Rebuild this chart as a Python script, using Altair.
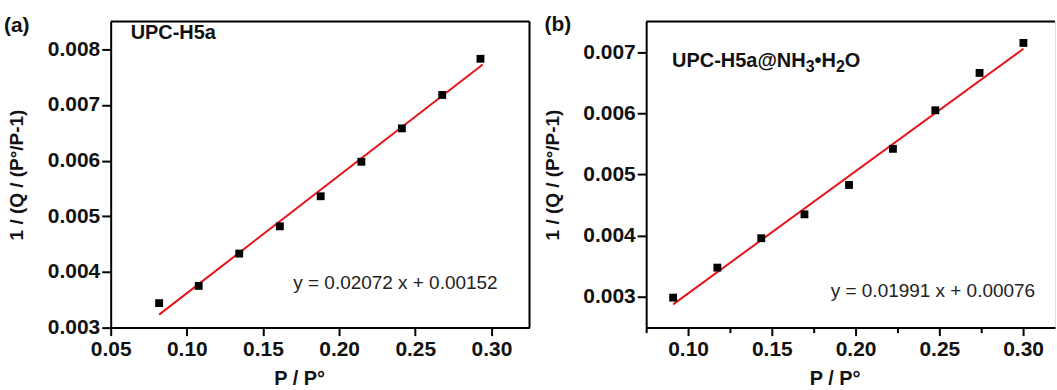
import altair as alt
import pandas as pd

# ---------------- data ----------------
a_x = [0.0818, 0.1078, 0.1344, 0.1611, 0.1879, 0.2146, 0.2412, 0.2677, 0.2928]
a_y = [0.00344, 0.00375, 0.00433, 0.00482, 0.00536, 0.00598, 0.00658, 0.00718, 0.00783]
a_fit_x = [0.0818, 0.2943]
a_fit_y = [0.003233, 0.007726]

b_x = [0.0911, 0.1175, 0.1437, 0.1695, 0.1961, 0.2223, 0.2476, 0.2740, 0.3002]
b_y = [0.00299, 0.00348, 0.00396, 0.00435, 0.00483, 0.00542, 0.00605, 0.00666, 0.00715]
b_fit_x = [0.0911, 0.3002]
b_fit_y = [0.00288, 0.007054]

a_xticks = [0.05, 0.075, 0.10, 0.125, 0.15, 0.175, 0.20, 0.225, 0.25, 0.275, 0.30, 0.325]
b_xticks = [0.075, 0.10, 0.125, 0.15, 0.175, 0.20, 0.225, 0.25, 0.275, 0.30]
a_yticks = [0.003, 0.0035, 0.004, 0.0045, 0.005, 0.0055, 0.006, 0.0065, 0.007, 0.0075, 0.008]
b_yticks = [0.003, 0.0035, 0.004, 0.0045, 0.005, 0.0055, 0.006, 0.0065, 0.007]

x_title = "P / P°"
y_title = "1 / (Q / (P°/P-1)"
label_a = "UPC-H5a"
# panel (b) label in pieces: (text, is_subscript)
label_b_parts = [("UPC-H5a@NH", False), ("3", True), ("•H", False), ("2", True), ("O", False)]
eq_a = "y = 0.02072 x + 0.00152"
eq_b = "y = 0.01991 x + 0.00076"

FONT = "Liberation Sans"
H = 307
WA = 420
WB = 410
LAB_FS = 20
SUB_FS = 16

# Liberation Sans Bold advance widths (em) for the label characters
ADV = {"U": .722, "P": .667, "C": .722, "-": .333, "H": .722, "5": .556, "a": .556,
       "@": .975, "N": .722, "3": .556, "•": .35, "2": .556, "O": .778}

x_major = "abs(datum.value*20 - round(datum.value*20)) < 0.001"
y_major = "abs(datum.value*1000 - round(datum.value*1000)) < 0.01"


def x_axis(vals):
    return alt.Axis(
        values=vals, title=x_title,
        labelExpr=f"{x_major} ? format(datum.value, '.2f') : ''",
        tickSize={"condition": {"test": x_major, "value": 8}, "value": 5},
        tickWidth=2, tickColor="black", domainColor="black", domainWidth=2,
        labelFont=FONT, labelFontSize=21, labelFontWeight="bold", labelColor="#111",
        labelPadding=3, labelOverlap=False, labelFlush=False,
        titleFont=FONT, titleFontSize=20, titleFontWeight="bold", titleColor="#111",
        titleX=189, titlePadding=9, grid=False,
    )


def y_axis(vals, tpad):
    return alt.Axis(
        values=vals, title=y_title,
        labelExpr=f"{y_major} ? format(datum.value, '.3f') : ''",
        tickSize={"condition": {"test": y_major, "value": 9}, "value": 5},
        tickWidth=2, tickColor="black", domainColor="black", domainWidth=2,
        labelFont=FONT, labelFontSize=21, labelFontWeight="bold", labelColor="#111",
        labelPadding=2, labelOverlap=False, labelFlush=False,
        titleFont=FONT, titleFontSize=19, titleFontWeight="bold", titleColor="#111",
        titlePadding=tpad, grid=False,
    )


def text_layer(txt, x, y, size, weight, align="left", color="#111"):
    one = pd.DataFrame({"a": [0]})
    return alt.Chart(one).mark_text(text=txt, font=FONT, fontSize=size, fontWeight=weight,
                                    align=align, baseline="alphabetic", color=color).encode(
        x=alt.value(x), y=alt.value(y))


def panel(px, py, fx, fy, xdom, ydom, xt, yt, w, tag, tagx, tagy, lab_parts, labx, laby,
          eq, eqx, eqy, right_border, tpad):
    pts = pd.DataFrame({"x": px, "y": py})
    fit = pd.DataFrame({"x": fx, "y": fy})
    xs = alt.Scale(domain=xdom, nice=False, zero=False)
    ys = alt.Scale(domain=ydom, nice=False, zero=False)

    line = alt.Chart(fit).mark_line(color="#e8141c", strokeWidth=2).encode(
        x=alt.X("x:Q", scale=xs, axis=x_axis(xt)),
        y=alt.Y("y:Q", scale=ys, axis=y_axis(yt, tpad)),
    )
    points = alt.Chart(pts).mark_square(color="black", size=62, opacity=1).encode(
        x=alt.X("x:Q", scale=xs), y=alt.Y("y:Q", scale=ys)
    )
    top = alt.Chart(pd.DataFrame({"a": [0]})).mark_rule(color="black", strokeWidth=2).encode(
        x=alt.value(0), x2=alt.value(w), y=alt.value(0)
    )
    layers = [line, points, top]
    if right_border:
        layers.append(
            alt.Chart(pd.DataFrame({"a": [0]})).mark_rule(color="black", strokeWidth=2).encode(
                x=alt.value(w), y=alt.value(0), y2=alt.value(H)
            )
        )
    layers.append(text_layer(tag, tagx, tagy, 21, "bold"))
    cx = labx
    for txt, sub in lab_parts:
        fs = SUB_FS if sub else LAB_FS
        layers.append(text_layer(txt, cx, laby + (5 if sub else 0), fs, "bold"))
        cx += sum(ADV.get(c, .6) for c in txt) * fs
    layers.append(text_layer(eq, eqx, eqy, 19, "normal", align="right", color="#222"))
    return alt.layer(*layers).properties(width=w, height=H)


pa = panel(a_x, a_y, a_fit_x, a_fit_y, [0.05, 0.325], [0.003, 0.0085], a_xticks, a_yticks, WA,
           "(a)", -107, 11, [(label_a, False)], 20, 17.5, eq_a, 388, 268.5, True, 21)
pb = panel(b_x, b_y, b_fit_x, b_fit_y, [0.075, 0.075 + WB / 1680], [0.0025, 0.0075], b_xticks,
           b_yticks, WB, "(b)", -102, 10, label_b_parts, 26, 45.5, eq_b, 390, 276.5, False, 20)

chart = alt.hconcat(pa, pb, spacing=117, bounds="flush").properties(
    padding={"left": 3, "top": 13, "right": 0, "bottom": 0}
).configure_view(stroke=None).configure(background="white")

chart.save("out.html", embed_options={"renderer": "svg", "actions": False})
